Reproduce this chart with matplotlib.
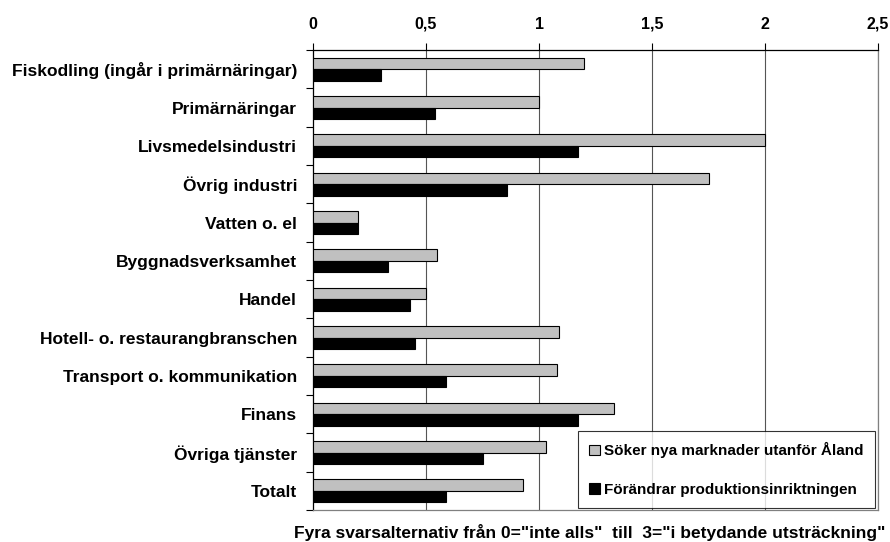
import matplotlib.pyplot as plt
import numpy as np

plt.rcParams['font.family'] = ['Liberation Sans', 'DejaVu Sans']
plt.rcParams['font.weight'] = 'bold'
plt.rcParams['font.size'] = 12.5

branscher = [
    "Fiskodling (ingår i primärnäringar)",
    "Primärnäringar",
    "Livsmedelsindustri",
    "Övrig industri",
    "Vatten o. el",
    "Byggnadsverksamhet",
    "Handel",
    "Hotell- o. restaurangbranschen",
    "Transport o. kommunikation",
    "Finans",
    "Övriga tjänster",
    "Totalt",
]
soker_nya = [1.2, 1.0, 2.0, 1.75, 0.2, 0.55, 0.5, 1.09, 1.08, 1.33, 1.03, 0.93]
forandrar = [0.3, 0.54, 1.17, 0.86, 0.2, 0.33, 0.43, 0.45, 0.59, 1.17, 0.75, 0.59]
xticks = [0, 0.5, 1, 1.5, 2, 2.5]
xticklabels = ["0", "0,5", "1", "1,5", "2", "2,5"]

fig = plt.figure(figsize=(8.9, 5.42), dpi=100)
ax = fig.add_axes([0.3517, 0.059, 0.635, 0.8487])

y = np.arange(len(branscher))
h = 0.3
ax.barh(y - h / 2, soker_nya, height=h, color="#c0c0c0", edgecolor="black",
        linewidth=0.8, label="Söker nya marknader utanför Åland", zorder=3)
ax.barh(y + h / 2, forandrar, height=h, color="black", edgecolor="black",
        linewidth=0.8, label="Förändrar produktionsinriktningen", zorder=3)

ax.set_xlim(0, 2.5)
ax.set_ylim(len(branscher) - 0.5, -0.5)

# x-axis on top
ax.xaxis.tick_top()
ax.set_xticks(xticks)
ax.set_xticklabels(xticklabels, fontweight='bold', fontsize=11.5)
ax.tick_params(axis='x', direction='out', length=5, width=0.8, pad=8)

ax.set_yticks(y)
ax.set_yticklabels(branscher, fontweight='bold')
ax.set_yticks(np.arange(-0.5, len(branscher)), minor=True)
ax.tick_params(axis='y', which='major', length=0, pad=11.5)
ax.tick_params(axis='y', which='minor', direction='out', length=5, width=0.8)

for xv in xticks[1:]:
    ax.axvline(xv, color="#555555", linewidth=0.8, zorder=1)

ax.spines['top'].set_color('black')
ax.spines['left'].set_color('black')
ax.spines['right'].set_color('#808080')
ax.spines['bottom'].set_color('#808080')
for s in ax.spines.values():
    s.set_linewidth(0.9)

leg = ax.legend(loc='lower right', bbox_to_anchor=(0.995, 0.004),
                frameon=True, fancybox=False, edgecolor='black',
                handlelength=0.7, handleheight=0.7, handletextpad=0.3,
                labelspacing=1.6, borderpad=0.75, borderaxespad=0,
                fontsize=11)
leg.get_frame().set_linewidth(0.8)
leg.set_zorder(5)

fig.text(0.995, 0.002,
         'Fyra svarsalternativ från 0="inte alls"  till  3="i betydande utsträckning"',
         ha='right', va='bottom', fontweight='bold', fontsize=12.5)

fig.savefig("out.png", dpi=100)
